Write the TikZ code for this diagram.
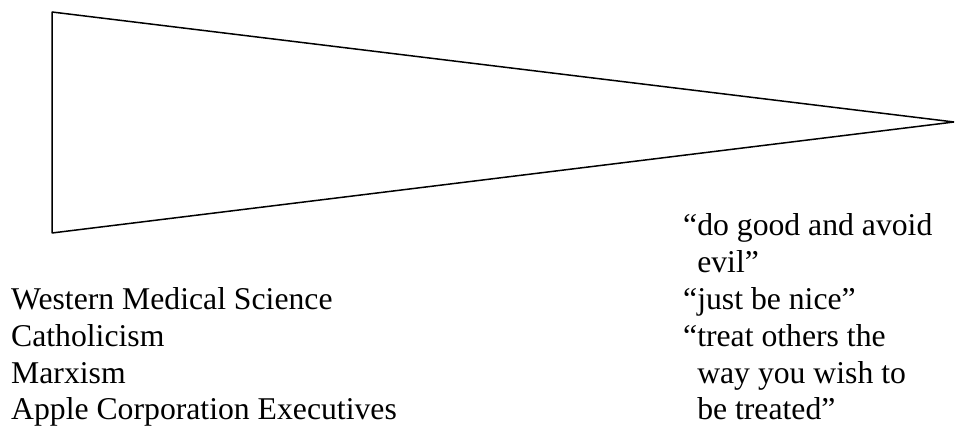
\documentclass[tikz,border=0pt]{standalone}
\usepackage{fontspec}
\usepackage{tikz}
\setmainfont{Liberation Serif}
\tikzset{
  listtext/.style={anchor=base west, inner sep=0pt, font=\fontsize{31.7}{36.6}\selectfont},
  wedgeline/.style={line width=1.5pt, line join=bevel}
}

\begin{document}
\begin{tikzpicture}[x=1pt,y=1pt]
  \useasboundingbox (0,0) rectangle (955,427);
  % the wedge
  \coordinate (wedgetop) at (52,415);
  \coordinate (wedgetip) at (954,305);
  \coordinate (wedgebot) at (52,194);
  \draw[wedgeline] (wedgetop) -- (wedgetip) -- (wedgebot) -- cycle;
  % left column
  \node[listtext] (western) at (11,117) {Western Medical Science};
  \node[listtext] (catholic) at (11,80.4) {Catholicism};
  \node[listtext] (marx) at (11,43.8) {Marxism};
  \node[listtext] (apple) at (11,7.2) {Apple Corporation Executives};
  % right column
  \node[listtext] (dogood) at (683,191) {``do good and avoid};
  \node[listtext] (evil) at (683,154.4) {\phantom{``}evil''};
  \node[listtext] (nice) at (683,117) {``just be nice''};
  \node[listtext] (treat) at (683,80.4) {``treat others the};
  \node[listtext] (wayyou) at (683,43.8) {\phantom{``}way you wish to};
  \node[listtext] (betreated) at (683,7.2) {\phantom{``}be treated''};
\end{tikzpicture}
\end{document}
